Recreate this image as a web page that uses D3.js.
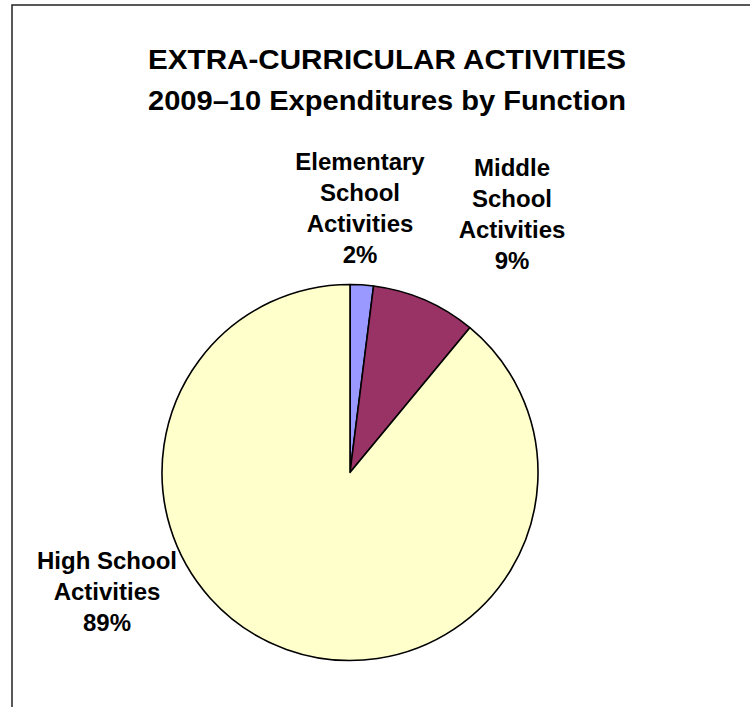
<!DOCTYPE html>
<html>
<head>
<meta charset="utf-8">
<script src="https://cdn.jsdelivr.net/npm/d3@7"></script>
<style>
html,body{margin:0;padding:0;background:#fff;}
svg{display:block;}
text{font-family:"Liberation Sans",Arial,sans-serif;font-weight:bold;fill:#000;}
</style>
</head>
<body>
<svg id="chart" width="750" height="707"></svg>
<script>
const titleLines = ["EXTRA-CURRICULAR ACTIVITIES", "2009\u201310 Expenditures by Function"];
const categories = ["Elementary School Activities", "Middle School Activities", "High School Activities"];
const values = [2, 9, 89];
const colors = ["#9999FF", "#993366", "#FFFFCC"];
const labelLines = [["Elementary", "School", "Activities", "2%"], ["Middle", "School", "Activities", "9%"], ["High School", "Activities", "89%"]];

const svg = d3.select("#chart");
svg.append("rect").attr("x", 12).attr("y", 5).attr("width", 760).attr("height", 720)
  .attr("fill", "#fff").attr("stroke", "#222").attr("stroke-width", 1.5);

svg.selectAll("text.title").data(titleLines).enter().append("text")
  .attr("class", "title").attr("x", 387).attr("y", (d, i) => 69 + i * 41)
  .attr("text-anchor", "middle").attr("font-size", 28)
  .attr("textLength", 478).attr("lengthAdjust", "spacingAndGlyphs").text(d => d);

const cx = 350, cy = 472.5, r = 188;
const pie = d3.pie().sort(null).value(d => d);
const arc = d3.arc().innerRadius(0).outerRadius(r);
const g = svg.append("g").attr("transform", `translate(${cx},${cy})`);
g.selectAll("path").data(pie(values)).enter().append("path")
  .attr("d", arc).attr("fill", (d, i) => colors[i])
  .attr("stroke", "#000").attr("stroke-width", 1.6).attr("stroke-linejoin", "round");

const labelPos = [[360, 170], [512, 176], [107, 569]];
labelLines.forEach((lines, k) => {
  const t = svg.append("text").attr("text-anchor", "middle").attr("font-size", 24);
  lines.forEach((ln, j) => {
    t.append("tspan").attr("x", labelPos[k][0]).attr("y", labelPos[k][1] + j * 31).text(ln);
  });
});
</script>
</body>
</html>
